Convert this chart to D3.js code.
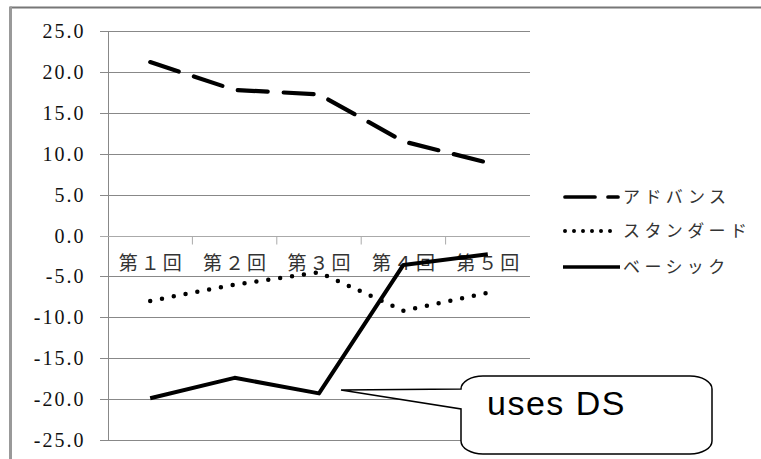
<!DOCTYPE html>
<html><head><meta charset="utf-8">
<script src="https://cdn.jsdelivr.net/npm/d3@7"></script>
<style>body{margin:0;background:#fff}svg{display:block}
.ylab text{font-family:"Liberation Serif","Times New Roman",serif !important;font-size:20px !important;}</style>
</head><body>
<script>
const categories = ["第１回","第２回","第３回","第４回","第５回"];
const advance  = [21.2, 17.8, 17.25, 11.5, 8.9];
const standard = [-8.0, -6.0, -4.5, -9.2, -7.0];
const basic    = [-19.9, -17.4, -19.3, -3.6, -2.3];
const seriesNames = ["アドバンス","スタンダード","ベーシック"];
const yTicks = [25,20,15,10,5,0,-5,-10,-15,-20,-25];
const calloutText = "uses DS";

const W=761,H=459;
const svg=d3.select("body").append("svg").attr("width",W).attr("height",H);

// frame
svg.append("line").attr("x1",10).attr("x2",W).attr("y1",7.5).attr("y2",7.5).attr("stroke","#777").attr("stroke-width",2);
svg.append("line").attr("x1",10.5).attr("x2",10.5).attr("y1",6.5).attr("y2",H).attr("stroke","#999").attr("stroke-width",3);

const x=d3.scaleBand().domain(categories).range([108,530]).padding(0);
const y=d3.scaleLinear().domain([-25,25]).range([440,31]);

// gridlines
svg.append("g").selectAll("line").data(yTicks.filter(d=>d!==0)).join("line")
  .attr("x1",100).attr("x2",530).attr("y1",d=>Math.round(y(d))+0.5).attr("y2",d=>Math.round(y(d))+0.5)
  .attr("stroke","#888").attr("stroke-width",1);

// y axis
const fmt=d3.format(".1f");
const ya=svg.append("g").attr("class","ylab").attr("transform","translate(108.5,0)")
  .call(d3.axisLeft(y).tickValues(yTicks).tickFormat(d=>fmt(d).replace("\u2212","-")).tickSize(8).tickPadding(15));
ya.attr("font-family","Liberation Serif").attr("font-size",20);
ya.select(".domain").attr("stroke","#888").attr("d","M0,"+y(25)+"V"+y(-25));
ya.selectAll(".tick line").attr("stroke","#888");
ya.selectAll(".tick").attr("transform",d=>"translate(0,"+(Math.round(y(d))+0.5)+")");
ya.selectAll("text").attr("fill","#111").attr("letter-spacing","2px").attr("dy","0.33em");

// category axis at zero
const y0=Math.round(y(0))+0.5;
svg.append("line").attr("x1",100).attr("x2",530).attr("y1",y0).attr("y2",y0).attr("stroke","#aaa");
const xa=svg.append("g").attr("transform","translate(0,"+y0+")")
  .call(d3.axisBottom(x).tickSize(8).tickSizeOuter(0).tickFormat(""));
xa.select(".domain").remove();
xa.selectAll(".tick line").attr("stroke","#aaa").attr("transform","translate("+(x.bandwidth()/2)+",0)");
xa.selectAll(".tick").filter((d,i)=>i===categories.length-1).select("line").remove();
svg.append("g").selectAll("text").data(categories).join("text")
  .attr("x",d=>x(d)+x.bandwidth()/2+1.5).attr("y",263).attr("dy","0.35em")
  .attr("text-anchor","middle").attr("font-family","Noto Sans CJK JP").attr("font-size",19)
  .attr("letter-spacing","3px").attr("fill","#333").text(d=>d);

const cx=d=>x(d)+x.bandwidth()/2;
const series=[
  {name:seriesNames[0],values:advance,dash:"30,16",cap:"round",w:4.2,ldash:"30,13"},
  {name:seriesNames[1],values:standard,dash:"0,12",cap:"round",w:4.5,ldash:"0,9"},
  {name:seriesNames[2],values:basic,dash:null,cap:"butt",w:4,ldash:null}
];
series.forEach(s=>{
  const line=d3.line().x((d,i)=>cx(categories[i])).y(d=>y(d));
  svg.append("path").datum(s.values).attr("d",line).attr("fill","none").attr("stroke","#000")
    .attr("stroke-width",s.w).attr("stroke-linecap",s.cap).attr("stroke-linejoin","round")
    .attr("stroke-dasharray",s.dash);
});

// legend
const ly=[197,231,267];
series.forEach((s,i)=>{
  svg.append("line").attr("x1",s.cap==="round"?565:563).attr("x2",s.cap==="round"?618:620)
    .attr("y1",ly[i]).attr("y2",ly[i]).attr("stroke","#000").attr("stroke-width",s.w-0.5)
    .attr("stroke-linecap",s.cap).attr("stroke-dasharray",s.ldash);
  svg.append("text").attr("x",623).attr("y",ly[i]).attr("dy","0.36em")
    .attr("font-family","Noto Sans CJK JP").attr("font-size",17).attr("letter-spacing","4.4px")
    .attr("fill","#333").text(s.name);
});

// callout
const L=461,R=712,T=376,B=454,rx=22,ry=13;
const p=`M${L+rx},${T}H${R-rx}A${rx},${ry} 0 0 1 ${R},${T+ry}V${B-ry}A${rx},${ry} 0 0 1 ${R-rx},${B}H${L+rx}A${rx},${ry} 0 0 1 ${L},${B-ry}V409L341,390L${L},${T+ry}A${rx},${ry} 0 0 1 ${L+rx},${T}Z`;
svg.append("path").attr("d",p).attr("fill","#fff").attr("stroke","#000").attr("stroke-width",1.5);
svg.append("text").attr("x",487).attr("y",415).attr("font-family","Liberation Sans").attr("font-size",34)
  .attr("letter-spacing","1.5px").attr("fill","#000").text(calloutText);
</script>
</body></html>
